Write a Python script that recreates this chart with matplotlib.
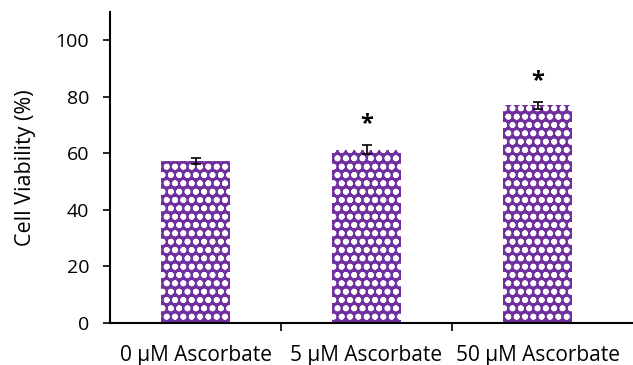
import numpy as np
import matplotlib.pyplot as plt

plt.rcParams['font.family'] = ['Open Sans', 'DejaVu Sans']
plt.rcParams['hatch.linewidth'] = 1.8

labels = ['0 \u00b5M Ascorbate', '5 \u00b5M Ascorbate', '50 \u00b5M Ascorbate']
viability = [57.3, 61.2, 77.0]
errors = [1.0, 1.6, 1.2]
significant = [False, True, True]

fig = plt.figure(figsize=(6.33, 3.65), dpi=100)
ax = fig.add_axes([110/633, 42/365, 523/633, 311/365])

x = np.arange(len(labels))
ax.bar(x, viability, width=0.4, color='#7030A0', edgecolor='white',
       hatch='oo', linewidth=0, zorder=2)
ax.errorbar(x, viability, yerr=errors, fmt='none', ecolor='black',
            elinewidth=1.2, capsize=3.5, capthick=1.2, zorder=3)
for xi, v, e, s in zip(x, viability, errors, significant):
    if s:
        ax.text(xi, v + e + 7.5, '*', ha='center', va='center', fontsize=17,
                fontweight='bold')

ax.set_xlim(-0.5, -0.5 + 523/171)
ax.set_ylim(0, 110)
ax.set_yticks([0, 20, 40, 60, 80, 100])
ax.set_xticks(x)
ax.set_xticklabels(labels)
ax.set_xticks([0.5, 1.5], minor=True)
ax.tick_params(axis='x', which='major', length=0, pad=16, labelsize=15)
ax.tick_params(axis='x', which='minor', length=6, width=1.2, direction='out')
ax.tick_params(axis='y', length=5, width=1.2, labelsize=14, pad=10)
ax.set_ylabel('Cell Viability (%)', fontsize=15.5, labelpad=14)
for side in ['top', 'right']:
    ax.spines[side].set_visible(False)
for side in ['left', 'bottom']:
    ax.spines[side].set_linewidth(1.5)

plt.savefig('out.png', dpi=100)
